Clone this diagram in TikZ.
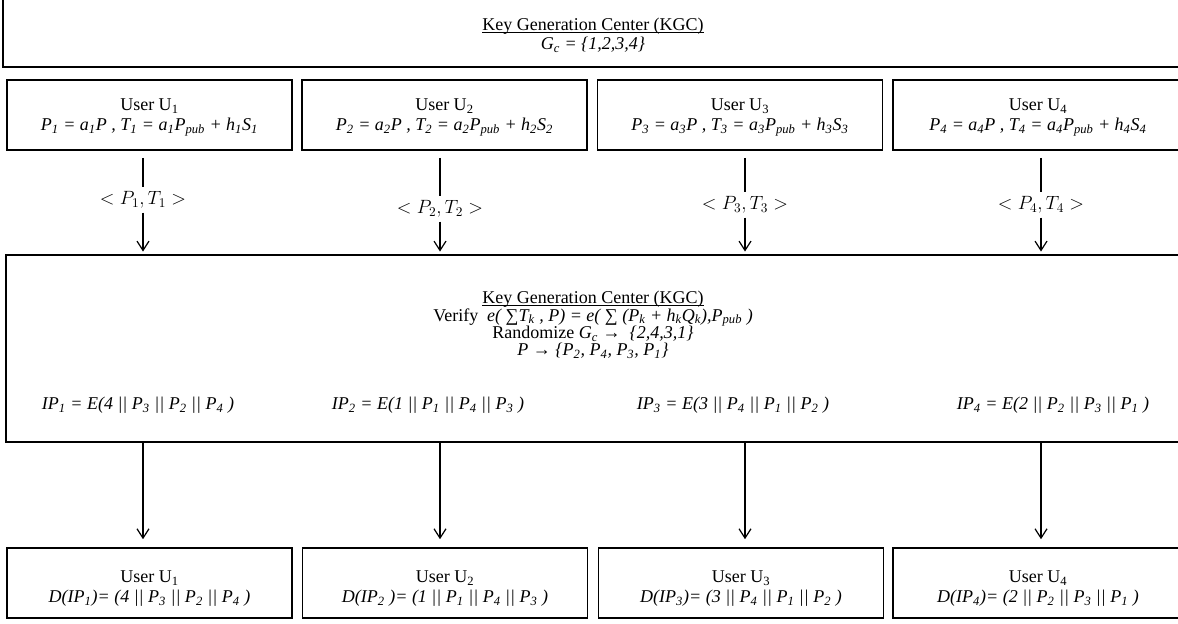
\documentclass[tikz,border=0pt]{standalone}
\usepackage{fontspec}
\setmainfont{Liberation Serif}
\usetikzlibrary{arrows.meta}
\newcommand{\sbs}[1]{\textsubscript{#1}}
\newcommand{\ttl}[1]{\underline{\raisebox{0pt}[\height][0pt]{#1}}}
\newcommand{\tightlines}{\lineskiplimit=-20pt\relax\lineskip=0pt\relax}
\tikzset{
  ubox/.style={draw, line width=1.2pt, minimum width=213.75pt, minimum height=52.5pt,
    align=center, inner sep=0pt, font=\fontsize{13.5}{15}\selectfont},
  txt/.style={align=center, inner sep=0pt,
    font=\fontsize{13.5}{13}\selectfont\tightlines},
  lbl/.style={inner sep=3pt, font=\Large},
}

\begin{document}
\begin{tikzpicture}[x=0.75pt,y=-0.75pt,>={Straight Barb[length=7pt,width=9pt]}]
\clip (0,0) rectangle (1178,624);
%----KGC (top)------------------------------------
\draw[line width=1.2pt] (3,-20) rectangle (1200,67);
\node[txt, font=\fontsize{13.5}{14.25}\selectfont] (kgc) at (593,35)
    {\ttl{Key Generation Center (KGC)}\\ \textit{G\sbs{c} = \{1,2,3,4\}}};
%----users----------------------------------------
\node[ubox] (u1) at (149.5,115) {\rule{0pt}{13pt}User U\sbs{1}\\ \textit{P\sbs{1} = a\sbs{1}P , T\sbs{1} = a\sbs{1}P\sbs{pub} + h\sbs{1}S\sbs{1}}};
\node[ubox] (u2) at (444.5,115) {\rule{0pt}{13pt}User U\sbs{2}\\ \textit{P\sbs{2} = a\sbs{2}P , T\sbs{2} = a\sbs{2}P\sbs{pub} + h\sbs{2}S\sbs{2}}};
\node[ubox] (u3) at (740,115) {\rule{0pt}{13pt}User U\sbs{3}\\ \textit{P\sbs{3} = a\sbs{3}P , T\sbs{3} = a\sbs{3}P\sbs{pub} + h\sbs{3}S\sbs{3}}};
\node[ubox, minimum width=217.5pt] (u4) at (1038,115) {\rule{0pt}{13pt}User U\sbs{4}\\ \textit{P\sbs{4} = a\sbs{4}P , T\sbs{4} = a\sbs{4}P\sbs{pub} + h\sbs{4}S\sbs{4}}};
%----KGC (verify)---------------------------------
\node[draw, line width=1.2pt, minimum width=888pt, minimum height=140.25pt] (kgcv) at (598,348.5) {};
\node[txt] (kgct) at (593,325) {\ttl{Key Generation Center (KGC)}\\
    Verify \ \textit{e( ∑T\sbs{k} , P) = e( ∑ (P\sbs{k} + h\sbs{k}Q\sbs{k}),P\sbs{pub} )}\\
    Randomize \textit{G\sbs{c}} → \ \textit{\{2,4,3,1\}}\\
    \textit{P → \{P\sbs{2}, P\sbs{4}, P\sbs{3}, P\sbs{1}\}}};
\node[txt] (ip1) at (138,405) {\textit{IP\sbs{1} = E(4 || P\sbs{3} || P\sbs{2} || P\sbs{4} )}};
\node[txt] (ip2) at (428,405) {\textit{IP\sbs{2} = E(1 || P\sbs{1} || P\sbs{4} || P\sbs{3} )}};
\node[txt] (ip3) at (733,405) {\textit{IP\sbs{3} = E(3 || P\sbs{4} || P\sbs{1} || P\sbs{2} )}};
\node[txt] (ip4) at (1053,405) {\textit{IP\sbs{4} = E(2 || P\sbs{2} || P\sbs{3} || P\sbs{1} )}};
%----users (decrypt)------------------------------
\node[ubox] (d1) at (149.5,583) {\rule{0pt}{17pt}User U\sbs{1}\\ \textit{D(IP\sbs{1})= (4 || P\sbs{3} || P\sbs{2} || P\sbs{4} )}};
\node[ubox] (d2) at (445,583) {\rule{0pt}{17pt}User U\sbs{2}\\ \textit{D(IP\sbs{2} )= (1 || P\sbs{1} || P\sbs{4} || P\sbs{3} )}};
\node[ubox] (d3) at (741,583) {\rule{0pt}{17pt}User U\sbs{3}\\ \textit{D(IP\sbs{3})= (3 || P\sbs{4} || P\sbs{1} || P\sbs{2} )}};
\node[ubox, minimum width=217.5pt] (d4) at (1038,583) {\rule{0pt}{17pt}User U\sbs{4}\\ \textit{D(IP\sbs{4})= (2 || P\sbs{2} || P\sbs{3} || P\sbs{1} )}};
%----arrow labels---------------------------------
\node[lbl] (l1) at (143,200) {$<P_1,T_1>$};
\node[lbl] (l2) at (440,209) {$<P_2,T_2>$};
\node[lbl] (l3) at (745,205) {$<P_3,T_3>$};
\node[lbl] (l4) at (1041,205) {$<P_4,T_4>$};
%----arrows---------------------------------------
\foreach \i in {1,...,4}{
  \draw[line width=0.9pt] (l\i |- u\i.south) ++(0,7) -- (l\i.north);
  \draw[->, line width=0.9pt, shorten >=2pt] (l\i.south) -- (l\i |- kgcv.north);
  \draw[->, line width=0.9pt, shorten >=6pt] (l\i |- kgcv.south) -- (l\i |- d\i.north);
}
\end{tikzpicture}
\end{document}
